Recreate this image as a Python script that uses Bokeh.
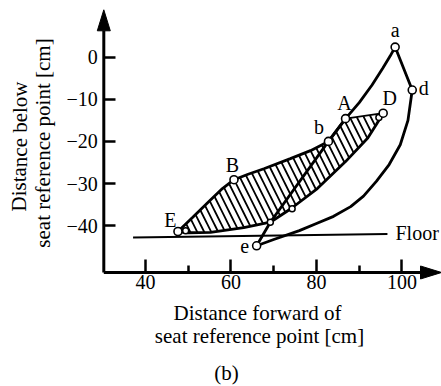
from bokeh.plotting import figure
from bokeh.models import FixedTicker, LinearAxis
from bokeh.core.properties import value
from bokeh.embed import file_html
from bokeh.resources import INLINE

# ---------------- data ----------------
x_ticks = [40, 60, 80, 100]
x_minor = [50, 70, 90]
y_ticks = [0, -10, -20, -30, -40]
y_tick_labels = ["0", "\u221210", "\u221220", "\u221230", "\u221240"]

point_names = ["a", "d", "D", "A", "b", "B", "E", "e"]
point_x = [98.4, 102.4, 95.6, 86.8, 82.8, 60.7, 47.6, 66.0]
point_y = [2.4, -7.8, -13.3, -14.6, -20.0, -29.1, -41.4, -44.8]

minor_pt_x = [69.2, 49.4, 74.3, 94.6]
minor_pt_y = [-39.2, -41.2, -36.0, -14.3]

# outer loop e -> b -> A -> a -> d -> e
outer_x = [66.0, 69.2, 82.8, 86.8, 90.0, 93.0, 95.5, 97.2, 98.4,
           102.4, 101.4, 99.6, 97.0, 94.0, 91.0, 88.0, 84.0, 80.0, 76.0, 70.0, 66.0]
outer_y = [-44.8, -39.2, -20.0, -14.6, -10.8, -6.6, -2.6, 0.2, 2.4,
           -7.8, -15.0, -20.8, -25.5, -29.5, -33.0, -35.5, -37.8, -39.5, -41.2, -43.3, -44.8]

# hatched region: upper edge E -> B -> b -> A, then A -> D, lower edge D -> E
hatch_up_x = [47.6, 51.0, 55.2, 58.0, 60.7, 64.0, 67.7, 73.9, 78.6, 82.8, 86.8]
hatch_up_y = [-41.4, -38.1, -33.9, -31.2, -29.1, -27.8, -26.5, -24.1, -22.2, -20.0, -14.6]
hatch_top_x = [86.8, 95.6]
hatch_top_y = [-14.6, -13.3]
hatch_low_x = [95.6, 94.0, 92.0, 86.8, 80.2, 74.0, 69.2, 63.0, 55.2, 50.0, 47.6]
hatch_low_y = [-13.3, -16.0, -19.2, -24.8, -31.2, -36.0, -39.2, -40.5, -41.6, -41.7, -41.4]

floor_x = [37.1, 96.6]
floor_y = [-42.8, -42.0]

x_axis_origin = 30.25
y_axis_origin = -51.14

# ---------------- layout ----------------
W, H = 441, 386
SX, SY = 4.275, 4.21            # px per data unit
XS = x_axis_origin - 103.3 / SX
XE = XS + W / SX
YE = 56.7 / SY
YS = YE - H / SY
BASE_FIX = -7.5                 # baseline correction of the text renderer (px)


def dx(px):
    return XS + px / SX


def dy(py):
    return YE - py / SY


FONT = "Liberation Serif"

p = figure(width=W, height=H, x_range=(XS, XE), y_range=(YS, YE),
           output_backend="svg", toolbar_location=None, x_axis_type=None,
           y_axis_type=None, min_border=0)
p.outline_line_color = None
p.xgrid.visible = False
p.ygrid.visible = False
p.background_fill_color = "white"
p.border_fill_color = "white"

xa = LinearAxis(ticker=FixedTicker(ticks=x_ticks, minor_ticks=x_minor),
                fixed_location=y_axis_origin)
xa.axis_line_color = None
xa.major_tick_in = 13
xa.major_tick_out = 0
xa.minor_tick_in = 7
xa.minor_tick_out = 0
xa.major_tick_line_width = 2.5
xa.minor_tick_line_width = 2.5
xa.major_tick_line_color = "black"
xa.minor_tick_line_color = "black"
xa.major_label_text_font = FONT
xa.major_label_text_font_size = "20px"
xa.major_label_text_color = "black"
xa.major_label_standoff = 3
p.add_layout(xa, "below")

ya = LinearAxis(ticker=FixedTicker(ticks=y_ticks, minor_ticks=[]),
                fixed_location=x_axis_origin)
ya.axis_line_color = None
ya.major_tick_in = 12
ya.major_tick_out = 0
ya.minor_tick_in = 0
ya.minor_tick_out = 0
ya.major_tick_line_width = 2.5
ya.major_tick_line_color = "black"
ya.major_label_text_font = FONT
ya.major_label_text_font_size = "20px"
ya.major_label_text_color = "black"
ya.major_label_standoff = 6
ya.major_label_overrides = {t: s for t, s in zip(y_ticks, y_tick_labels)}
p.add_layout(ya, "left")

# axis lines with arrow heads
ytip = dy(9.3)
xtip = dx(441.0)
AL, AW = 21, 6.5
p.line([x_axis_origin, x_axis_origin], [y_axis_origin, ytip - AL / SY],
       line_color="black", line_width=3)
p.line([x_axis_origin, xtip - AL / SX], [y_axis_origin, y_axis_origin],
       line_color="black", line_width=3)
p.patch([x_axis_origin - AW / SX, x_axis_origin, x_axis_origin + AW / SX],
        [ytip - AL / SY, ytip, ytip - AL / SY],
        fill_color="black", line_color="black", line_width=1)
p.patch([xtip - AL / SX, xtip, xtip - AL / SX],
        [y_axis_origin + AW / SY, y_axis_origin, y_axis_origin - AW / SY],
        fill_color="black", line_color="black", line_width=1)

# hatched region
p.patch(hatch_up_x + hatch_top_x[1:] + hatch_low_x[1:],
        hatch_up_y + hatch_top_y[1:] + hatch_low_y[1:],
        fill_color=None, line_color=None, hatch_pattern="\\",
        hatch_color="black", hatch_weight=1.8, hatch_scale=14)
p.line(hatch_up_x, hatch_up_y, line_color="black", line_width=2.8)
p.line(hatch_top_x, hatch_top_y, line_color="black", line_width=1.8)
p.line(hatch_low_x, hatch_low_y, line_color="black", line_width=2.8)

# floor
p.line(floor_x, floor_y, line_color="black", line_width=2)

# outer loop
p.line(outer_x, outer_y, line_color="black", line_width=2.8)

# point markers
p.scatter(minor_pt_x, minor_pt_y, size=6, marker="circle", fill_color="white",
          line_color="black", line_width=1.5)
p.scatter(point_x, point_y, size=8, marker="circle", fill_color="white",
          line_color="black", line_width=1.6)

# point labels (offsets in px: dx, dy(baseline, +down), align)
label_style = {
    "a": (0, -10, "center"),
    "d": (6.5, 5.7, "left"),
    "D": (6.5, -7.7, "center"),
    "A": (-1, -8.3, "center"),
    "b": (-4.4, -7.4, "right"),
    "B": (-1.6, -7.6, "center"),
    "E": (-1.5, -4.0, "right"),
    "e": (-7.5, 8.0, "right"),
}
for name, x, y in zip(point_names, point_x, point_y):
    ox, oy, al = label_style[name]
    p.text([x], [y], text=[name], x_offset=ox, y_offset=oy + BASE_FIX,
           text_align=al, text_baseline="alphabetic", text_font=value(FONT),
           text_font_size="20px", text_color="black")

p.text([floor_x[1]], [floor_y[1]], text=["Floor"], x_offset=8,
       y_offset=6.7 + BASE_FIX, text_align="left", text_baseline="alphabetic",
       text_font=value(FONT), text_font_size="20px", text_color="black")

# axis titles (baseline positions in canvas px)
titles = [
    ("Distance forward of", 257, 320, 0),
    ("seat reference point [cm]", 259, 343, 0),
    ("(b)", 226, 380, 0),
    ("Distance below", 26.5, 146, 1),
    ("seat reference point [cm]", 50, 142.5, 1),
]
for txt, ix, iy, rot in titles:
    if rot:
        ix, iy = ix + BASE_FIX, iy
    else:
        iy = iy + BASE_FIX
    p.text([dx(ix)], [dy(iy)], text=[txt], text_font=value(FONT),
           text_font_size="21px", text_color="black", text_align="center",
           text_baseline="alphabetic", angle=1.5707963 if rot else 0)

open("out.html", "w").write(file_html(p, INLINE))
